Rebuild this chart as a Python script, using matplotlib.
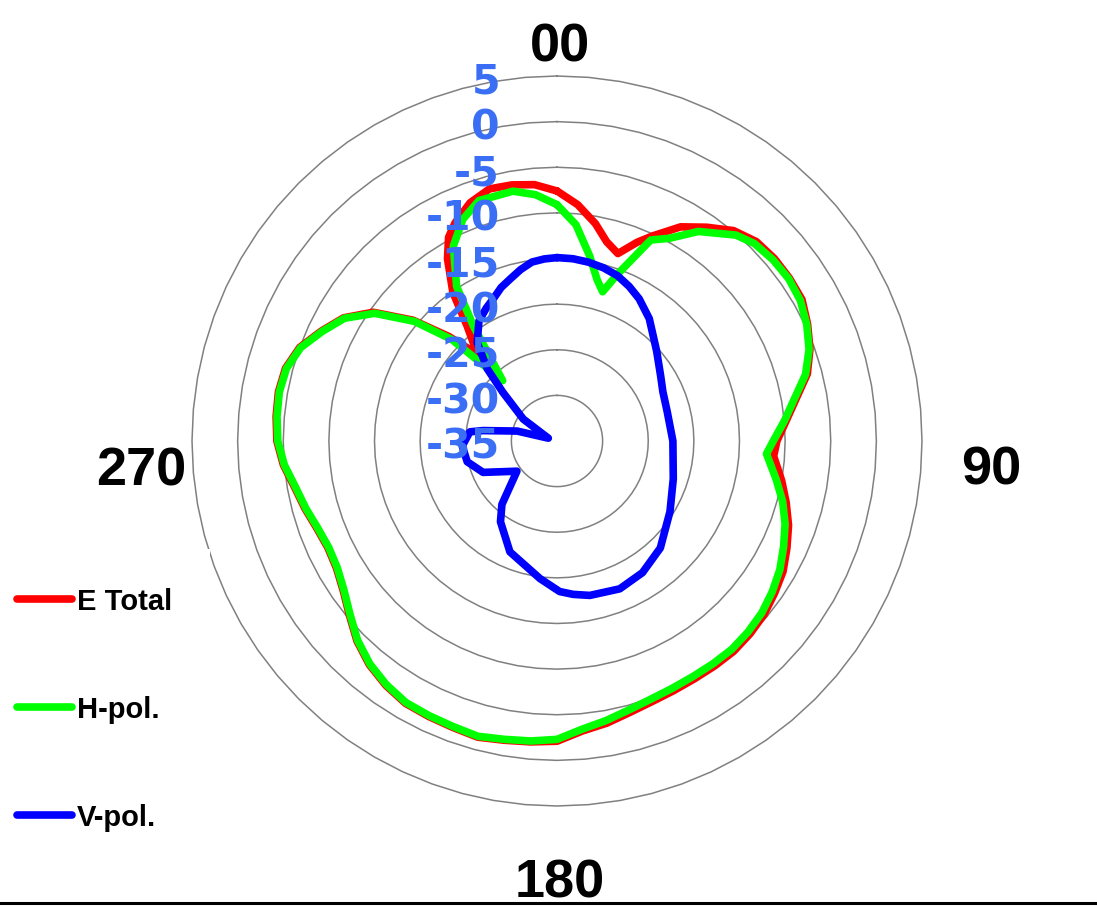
import numpy as np
import matplotlib
matplotlib.use('Agg')
import matplotlib.pyplot as plt
from matplotlib.lines import Line2D

# angles in degrees, clockwise from "00"; levels in dB
etot_deg = [0, 5, 10, 14, 18, 22, 25, 30, 35, 40, 45, 50, 55, 60, 65, 70, 75, 80, 85, 90, 94,
            100, 105, 110, 115, 120, 125, 130, 135, 140, 145, 150, 155, 160, 165, 170, 175,
            180, 185, 190, 195, 200, 205, 210, 215, 220, 225, 230, 235, 240, 245, 250, 255,
            260, 265, 270, 275, 280, 285, 290, 295, 300, 305, 310,
            314, 317.5, 322, 325, 329, 332, 335, 340, 345, 350, 355]
etot_db = [-7.6, -9.0, -10.8, -12.5, -13.4, -11.5, -10.2,
           -7.9, -6.4, -4.9, -4.1, -3.9, -3.9, -4.0, -4.7, -5.5, -6.6, -8.4, -9.8, -10.9, -11.2,
           -10.0, -9.0, -8.0, -7.2, -6.4, -5.9, -5.4, -5.1, -4.9, -4.9, -4.9, -4.8, -4.6, -4.2,
           -3.6, -3.1, -2.1, -1.9, -1.7, -1.4, -1.6, -1.7, -1.8, -2.3, -3.0, -4.0, -5.3, -6.4,
           -7.1, -7.3, -7.0, -6.4, -5.8, -4.9, -4.3, -4.1, -4.0, -4.2, -5.0, -6.5, -8.0, -10.4,
           -14.4, -18.5, -22.1, -19.0, -15.1, -11.7, -9.7, -8.6, -7.2, -6.4, -6.5, -6.8]

hpol_deg = [0, 5, 10, 14, 17, 20, 25, 29, 34, 41, 45, 50, 55, 60, 65, 70, 75, 80, 85, 90, 93.5,
            100, 105, 110, 115, 120, 125, 130, 135, 140, 145, 150, 155, 160, 165, 170, 175,
            180, 185, 190, 195, 200, 205, 210, 215, 220, 225, 230, 235, 240, 245, 250, 255,
            260, 265, 270, 275, 280, 285, 290, 295, 300, 305, 310,
            314, 318, 324, 327, 332, 337, 342, 350, 355]
hpol_db = [-9.1, -11.2, -14.4, -16.8, -17.9, -15.5, -10.7, -9.6, -7.3, -5.1, -4.4, -4.1, -4.0,
           -4.2, -4.8, -5.6, -6.8, -8.6, -10.0, -11.3, -12.0,
           -10.6, -9.4, -8.4, -7.6, -6.8, -6.2, -5.7, -5.4, -5.2, -5.2, -5.2, -5.1, -4.9, -4.5,
           -3.9, -3.3, -2.3, -2.0, -1.8, -1.5, -1.7, -1.8, -1.9, -2.4, -3.1, -4.1, -5.4, -6.5,
           -7.2, -7.4, -7.1, -6.5, -5.9, -5.0, -4.4, -4.2, -4.1, -4.3, -5.1, -6.6, -8.1, -10.6,
           -14.6, -19.0, -26.1, -19.4, -14.8, -10.8, -8.6, -7.3, -7.2, -7.9]

vpol_deg = [0, 5, 10, 15, 20, 25, 30, 37, 48, 58, 65, 75, 90, 108, 122, 136, 147, 157, 168, 174,
            179, 187, 203, 215, 221, 233, 247, 257, 267, 276, 278, 284, 288, 303, 312, 316, 321,
            327, 332, 336, 340, 344, 348, 352, 356]
vpol_db = [-14.9, -14.95, -15.1, -15.35, -15.7, -16.3, -17.0, -18.2, -20.3, -21.6, -22.2, -22.5,
           -22.3, -21.6, -20.4, -18.7, -17.8, -17.4, -17.7, -18.1, -18.5, -19.8, -21.8, -24.2,
           -25.8, -29.5, -26.2, -24.9, -24.6, -25.4, -26.8, -30.5, -34.0, -30.6, -27.0, -24.0,
           -21.1, -19.3, -18.5, -17.9, -17.1, -16.5, -15.8, -15.2, -15.0]

ring_db = [-30, -25, -20, -15, -10, -5, 0, 5]
rlabels = [5, 0, -5, -10, -15, -20, -25, -30, -35]
angle_labels = ['00', '90', '180', '270']
angle_pos = [0, 90, 180, 270]
series_names = ['E Total', 'H-pol.', 'V-pol.']


def closed(deg, db):
    t = np.radians(np.append(deg, deg[0]))
    return t, np.append(db, db[0])


fig = plt.figure(figsize=(10.97, 9.12), dpi=100)
ax = fig.add_axes([192 / 1097, 105 / 912, 730 / 1097, 730 / 912], projection='polar')
ax.set_theta_zero_location('N')
ax.set_theta_direction(-1)
ax.set_rlim(-35, 5)
ax.grid(False)
ax.set_xticks([])
ax.set_yticks([])
ax.spines['polar'].set_visible(False)

# faceted rings like the original
ring_t = np.radians(np.arange(0, 361, 5))
for r in ring_db:
    ax.plot(ring_t, np.full(ring_t.shape, r), color='#808080', lw=1.1, clip_on=False, zorder=1)

lines = []
for (deg, db), col, name in zip([(etot_deg, etot_db), (hpol_deg, hpol_db), (vpol_deg, vpol_db)],
                                ['#ff0000', '#00ff00', '#0000ff'], series_names):
    t, v = closed(deg, db)
    ln, = ax.plot(t, v, color=col, lw=5.5, solid_joinstyle='round', solid_capstyle='round',
                  clip_on=False, zorder=3, label=name)
    lines.append(ln)

for v in rlabels:
    ax.annotate(f'{v}', xy=(0, v), xytext=(-57, -17), textcoords='offset pixels',
                ha='right', va='baseline', fontsize=29.5, fontweight='bold',
                family='DejaVu Sans', color='#3A6EF5', zorder=5, annotation_clip=False)

offs = {'00': (3, 15), '90': (69, -43), '180': (3, -91), '270': (-51, -43)}
for lab, a in zip(angle_labels, angle_pos):
    ax.annotate(lab, xy=(np.radians(a), 5), xytext=offs[lab], textcoords='offset pixels',
                ha='center', va='baseline', fontsize=39, fontweight='bold',
                family='Liberation Sans', color='black', annotation_clip=False)

leg = fig.legend(lines, series_names, loc='upper left', bbox_to_anchor=(-21 / 1097, 1 - 550 / 912),
                 prop={'family': 'Liberation Sans', 'weight': 'bold', 'size': 21},
                 handlelength=1.9, handletextpad=0.15, labelspacing=2.75, borderpad=1.3,
                 borderaxespad=0, frameon=True, facecolor='white', edgecolor='none',
                 framealpha=1, fancybox=False)

fig.add_artist(Line2D([0, 1], [0.0093, 0.0093], transform=fig.transFigure, color='black', lw=2.2))

fig.savefig('out.png', dpi=100)
